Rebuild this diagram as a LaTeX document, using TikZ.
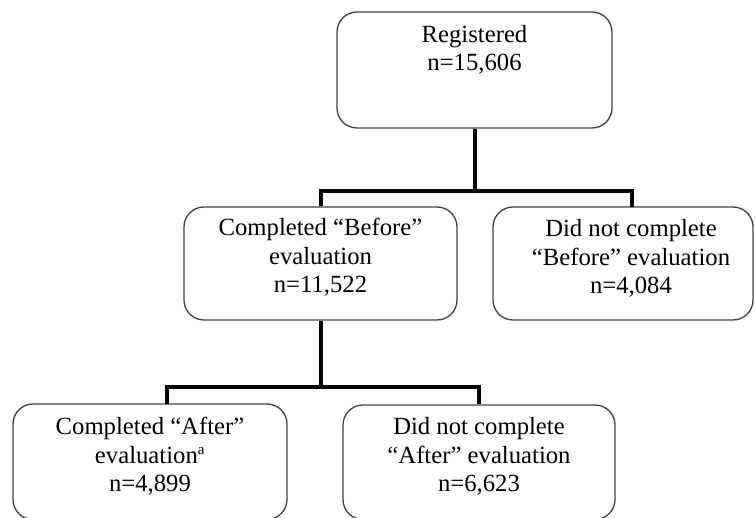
\documentclass[tikz,border=0pt]{standalone}
\usepackage{fontspec}
\setmainfont{Liberation Serif}
\begin{document}
\begin{tikzpicture}[x=1pt,y=-1pt,
  box/.style={draw=black!75, line width=1.3pt, rounded corners=20pt, rectangle, inner sep=0pt},
  lbl/.style={anchor=north, inner sep=0pt, align=center, font=\fontsize{24.7}{28.5}\selectfont},
  conn/.style={line width=4pt, black}]
\useasboundingbox (0,0) rectangle (755,518);
% boxes
\node[box, minimum width=275pt, minimum height=116pt] (reg) at (474.5,70) {};
\node[box, minimum width=273pt, minimum height=113pt] (cb) at (320.5,263.5) {};
\node[box, minimum width=260pt, minimum height=113pt] (dnb) at (623,263.5) {};
\node[box, minimum width=274pt, minimum height=115.5pt] (ca) at (150,461.75) {};
\node[box, minimum width=272pt, minimum height=114.5pt] (dna) at (479,462.25) {};
% texts
\node[lbl] (regt) at ([yshift=-13.8pt]reg.north) {Registered\\n=15,606};
\node[lbl] (cbt) at ([yshift=-11.8pt]cb.north) {Completed “Before”\\evaluation\\n=11,522};
\node[lbl] (dnbt) at ([xshift=8pt,yshift=-13.3pt]dnb.north) {Did not complete\\“Before” evaluation\\n=4,084};
\node[lbl] (cat) at ([yshift=-13.8pt]ca.north) {Completed “After”\\evaluation\textsuperscript{\fontsize{15}{15}\selectfont a}\\n=4,899};
\node[lbl] (dnat) at ([yshift=-13.3pt]dna.north) {Did not complete\\“After” evaluation\\n=6,623};
% junctions
\coordinate (j1) at (474.5,191);
\coordinate (dnbin) at (632,207);
\coordinate (j2) at (320.5,387);
\coordinate (cain) at (167,404);
% connectors
\draw[conn] (reg.south) -- (j1);
\draw[conn] (cb.north) |- (j1) -| (dnbin);
\draw[conn] (cb.south) -- (j2);
\draw[conn] (cain) |- (j2) -| (dna.north);
\end{tikzpicture}
\end{document}
